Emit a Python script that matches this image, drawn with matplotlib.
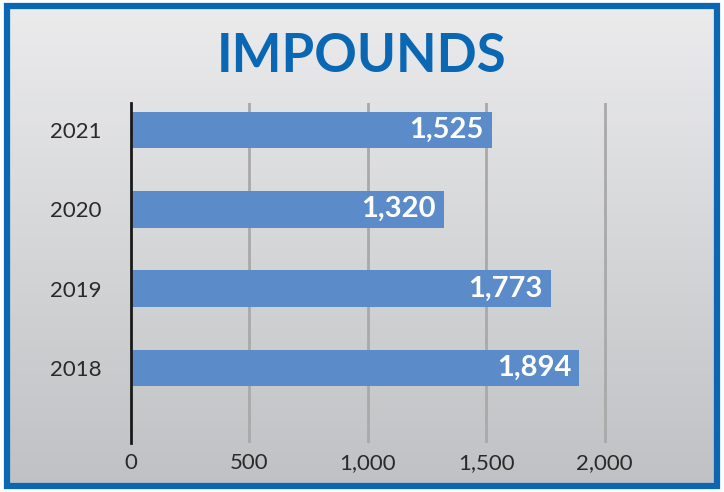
import numpy as np
import matplotlib.pyplot as plt
from matplotlib.patches import Rectangle

# Datos
years = ['2018', '2019', '2020', '2021']
impounds = [1894, 1773, 1320, 1525]
xticks = [0, 500, 1000, 1500, 2000]

blue = '#0a67b4'
bar_color = '#5b8bc8'

fig = plt.figure(figsize=(7.24, 4.92), dpi=100)

# Fondo con degradado gris
bg = fig.add_axes([0, 0, 1, 1], zorder=0)
grad = np.linspace(0, 1, 256).reshape(-1, 1)
top = np.array([0.925, 0.925, 0.93])
bot = np.array([0.75, 0.755, 0.765])
img = top + (bot - top) * grad[:, :, None]
bg.imshow(img, aspect='auto', extent=[0, 1, 0, 1], origin='upper')
bg.add_patch(Rectangle((0, 0), 1, 1, transform=bg.transAxes, fill=False,
                       edgecolor='white', linewidth=8))
bg.add_patch(Rectangle((0.0095, 0.013), 0.981, 0.974, transform=bg.transAxes,
                       fill=False, edgecolor=blue, linewidth=4.5))
bg.set_xlim(0, 1)
bg.set_ylim(0, 1)
bg.axis('off')

fig.text(0.5, 0.886, 'IMPOUNDS', ha='center', va='center', color=blue,
         fontsize=38, fontweight='bold', family='Lato')

ax = fig.add_axes([0.181, 0.0996, 0.789, 0.691], zorder=1)
ax.patch.set_alpha(0)
y = np.arange(len(years))
ax.barh(y, impounds, height=0.46, color=bar_color, zorder=2)
for yi, v in zip(y, impounds):
    ax.text(v - 35, yi, f'{v:,}', ha='right', va='center', color='white',
            fontsize=21, fontweight='bold', family='Lato', zorder=3)

ax.set_xlim(0, 2413)
ax.set_ylim(-0.945, 3.34)
ax.set_xticks(xticks)
ax.set_xticklabels([f'{t:,}' for t in xticks])
ax.set_yticks(y)
ax.set_yticklabels(years)
ax.tick_params(length=0, labelsize=16, colors='#2a2a2a', pad=7)
ax.tick_params(axis='y', pad=21.5)
for lab in ax.get_xticklabels() + ax.get_yticklabels():
    lab.set_family('Lato')

for t in xticks[1:]:
    ax.axvline(t, color='#a9a9a9', linewidth=2, zorder=1)
for s in ['top', 'right', 'bottom']:
    ax.spines[s].set_visible(False)
ax.spines['left'].set_linewidth(2)
ax.spines['left'].set_color('#1a1a1a')
ax.spines['left'].set_zorder(3)

fig.savefig('out.png', dpi=100)
